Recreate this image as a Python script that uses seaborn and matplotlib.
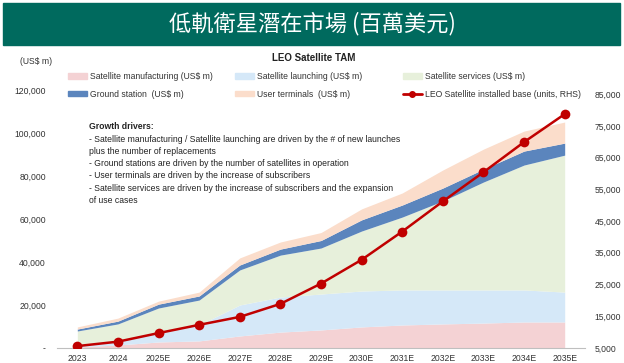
import numpy as np
import matplotlib
matplotlib.use("Agg")
import matplotlib.pyplot as plt
import seaborn as sns
from matplotlib.patches import Patch, Rectangle
from matplotlib.lines import Line2D
from matplotlib.ticker import FuncFormatter

# values (US$ m, installed base in units)
years = ["2023", "2024", "2025E", "2026E", "2027E", "2028E", "2029E",
         "2030E", "2031E", "2032E", "2033E", "2034E", "2035E"]
manufacturing = [500, 1400, 2800, 3300, 5600, 7400, 8400, 9800, 10700, 11200, 11600, 12100, 12100]
launching = [900, 2300, 4200, 7400, 14400, 16300, 16700, 16700, 16300, 15800, 15400, 14900, 13900]
services = [6500, 7500, 11600, 11600, 16300, 19500, 21400, 27900, 33900, 41400, 50200, 58100, 63700]
ground = [900, 1300, 1800, 1900, 2300, 2800, 3500, 5200, 5600, 6000, 6000, 6500, 5600]
terminals = [1000, 1400, 1400, 1800, 3300, 3300, 3700, 5100, 5600, 8400, 9300, 9300, 9800]
installed = [5600, 7000, 9700, 12300, 14800, 18900, 25300, 32800, 41700, 51200, 60400, 69900, 78700]

labels = ["Satellite manufacturing (US$ m)", "Satellite launching (US$ m)",
          "Satellite services (US$ m)", "Ground station  (US$ m)",
          "User terminals  (US$ m)", "LEO Satellite installed base (units, RHS)"]
colors = ["#F4D2D4", "#D5E8F8", "#E7F0DB", "#5B85BD", "#FBDDCB"]
red = "#C00000"
teal = "#006A5E"
txt = "#333333"

sns.set_style("white")
plt.rcParams["font.family"] = ["Liberation Sans", "DejaVu Sans"]

fig = plt.figure(figsize=(6.24, 3.63), dpi=100)

# title banner
fig.patches.append(Rectangle((3 / 624, 1 - 45 / 363), 617 / 624, 42 / 363,
                             transform=fig.transFigure, color=teal, zorder=0))
fig.text(0.5, 1 - 24 / 363, "低軌衛星潛在市場 (百萬美元)", color="white", fontsize=16,
         ha="center", va="center", family=["Noto Sans CJK TC", "DejaVu Sans"])

fig.text(314 / 624, 1 - 58 / 363, "LEO Satellite TAM", fontsize=7, weight="bold",
         ha="center", va="center", color="#222222")
fig.text(20 / 624, 1 - 61 / 363, "(US$ m)", fontsize=6.2, ha="left", va="center", color=txt)

ax = fig.add_axes([57 / 624, 15 / 363, 528 / 624, 258 / 363])
x = np.arange(len(years))
ax.stackplot(x, manufacturing, launching, services, ground, terminals,
             colors=colors, linewidth=0)
ax.set_xlim(-0.5, len(years) - 0.5)
ax.set_ylim(0, 120000)
ax.set_yticks(np.arange(0, 120001, 20000))
ax.yaxis.set_major_formatter(FuncFormatter(lambda v, p: "-" if v == 0 else f"{v:,.0f}"))
ax.set_xticks(x)
ax.set_xticklabels(years)
ax.set_xticks(np.arange(-0.5, len(years)), minor=True)
ax.tick_params(axis="x", which="major", length=0, labelsize=6.2, colors=txt, pad=4)
ax.tick_params(axis="x", which="minor", length=4, color="#BFBFBF", width=0.8)
ax.tick_params(axis="y", length=0, labelsize=6.2, colors=txt, pad=8)
for s in ["top", "right", "left"]:
    ax.spines[s].set_visible(False)
ax.spines["bottom"].set_color("#BFBFBF")
ax.spines["bottom"].set_linewidth(0.8)

ax2 = ax.twinx()
sns.lineplot(x=x, y=installed, ax=ax2, color=red, linewidth=1.8, marker="o",
             markersize=7, markeredgewidth=0, legend=False, zorder=5)
ax2.set_ylim(5000, 86300)
ax2.set_yticks(np.arange(5000, 85001, 10000))
ax2.yaxis.set_major_formatter(FuncFormatter(lambda v, p: f"{v:,.0f}"))
ax2.tick_params(axis="y", length=0, labelsize=6.2, colors=txt, pad=7)
ax2.set_ylabel("")
for s in ax2.spines.values():
    s.set_visible(False)

# legend in three fixed columns
handles = [Patch(color=c) for c in colors] + [Line2D([], [], color=red, lw=2, marker="o", markersize=4)]
cols = [(0, 3), (1, 4), (2, 5)]
xs = [68, 235, 403]
for (a, b), xp in zip(cols, xs):
    fig.legend([handles[a], handles[b]], [labels[a], labels[b]], loc="upper left",
               bbox_to_anchor=(xp / 624, 1 - 72 / 363), frameon=False, fontsize=6.2,
               handlelength=2.2, handleheight=0.65, handletextpad=0.4,
               labelspacing=1.0, borderpad=0, borderaxespad=0, labelcolor=txt)

fig.text(89 / 624, 1 - 122 / 363, "Growth drivers:", fontsize=6.2, weight="bold",
         ha="left", va="top", color="#222222")
drivers = ("- Satellite manufacturing / Satellite launching are driven by the # of new launches\n"
           "plus the number of replacements\n"
           "- Ground stations are driven by the number of satellites in operation\n"
           "- User terminals are driven by the increase of subscribers\n"
           "- Satellite services are driven by the increase of subscribers and the expansion\n"
           "of use cases")
fig.text(89 / 624, 1 - 135 / 363, drivers, fontsize=6.2, ha="left", va="top",
         color="#222222", linespacing=1.45)

fig.savefig("out.png", dpi=100)
